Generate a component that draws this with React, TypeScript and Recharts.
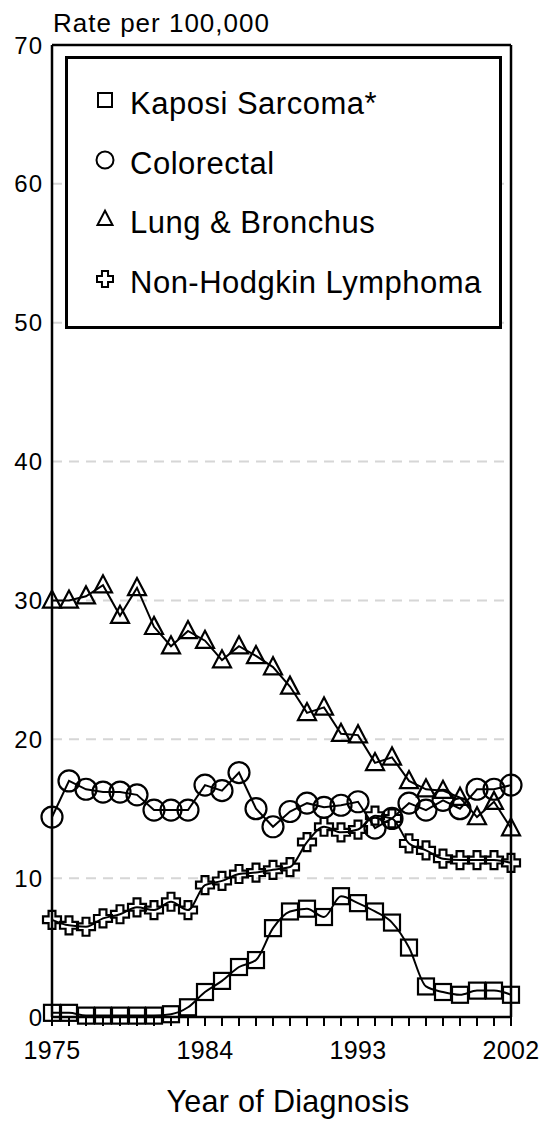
import React from 'react';
import {
  LineChart,
  Line,
  XAxis,
  YAxis,
  CartesianGrid,
  ReferenceLine,
  Legend,
} from 'recharts';

const FONT = '"Liberation Sans", Arial, Helvetica, sans-serif';

// Year of diagnosis, 1975 - 2002
const years = [
  1975, 1976, 1977, 1978, 1979, 1980, 1981, 1982, 1983, 1984, 1985, 1986, 1987, 1988,
  1989, 1990, 1991, 1992, 1993, 1994, 1995, 1996, 1997, 1998, 1999, 2000, 2001, 2002,
];
const labeledYears = [1975, 1984, 1993, 2002];
const rateTicks = [0, 10, 20, 30, 40, 50, 60, 70];

// Rate per 100,000
const kaposi = [
  0.3, 0.3, 0.1, 0.1, 0.1, 0.1, 0.1, 0.2, 0.7, 1.8, 2.6, 3.6, 4.1, 6.4,
  7.6, 7.8, 7.2, 8.7, 8.2, 7.6, 6.8, 5.0, 2.2, 1.8, 1.6, 1.9, 1.9, 1.6,
];
const colorectal = [
  14.4, 17.0, 16.4, 16.2, 16.2, 16.0, 14.9, 14.9, 14.9, 16.7, 16.3, 17.6, 15.0, 13.7,
  14.8, 15.4, 15.1, 15.25, 15.5, 13.6, 14.3, 15.4, 14.9, 15.6, 15.0, 16.4, 16.4, 16.7,
];
const lung = [
  30.0, 30.0, 30.3, 31.1, 28.9, 30.9, 28.1, 26.7, 27.8, 27.1, 25.7, 26.7, 26.0, 25.2,
  23.8, 21.9, 22.3, 20.4, 20.3, 18.3, 18.7, 17.0, 16.4, 16.3, 15.8, 14.4, 15.5, 13.6,
];
const nhl = [
  7.0, 6.6, 6.5, 7.1, 7.4, 7.9, 7.7, 8.3, 7.7, 9.5, 9.8, 10.3, 10.4, 10.6,
  10.8, 12.6, 13.7, 13.3, 13.5, 14.5, 14.3, 12.5, 12.0, 11.4, 11.3, 11.3, 11.3, 11.1,
];

const data = years.map((year, i) => ({
  year,
  kaposi: kaposi[i],
  colorectal: colorectal[i],
  lung: lung[i],
  nhl: nhl[i],
}));

type Shape = 'square' | 'circle' | 'triangle' | 'cross';

const series: { key: string; name: string; shape: Shape; curve: 'monotone' | 'linear' }[] = [
  { key: 'kaposi', name: 'Kaposi Sarcoma*', shape: 'square', curve: 'monotone' },
  { key: 'colorectal', name: 'Colorectal', shape: 'circle', curve: 'linear' },
  { key: 'lung', name: 'Lung & Bronchus', shape: 'triangle', curve: 'linear' },
  { key: 'nhl', name: 'Non-Hodgkin Lymphoma', shape: 'cross', curve: 'monotone' },
];

// hollow marker, s = half size
function Marker({ shape, cx, cy, s, sw }: { shape: Shape; cx: number; cy: number; s: number; sw: number }) {
  const common = { fill: 'none', stroke: '#000', strokeWidth: sw };
  if (shape === 'square') {
    return <rect x={cx - s} y={cy - s} width={s * 2} height={s * 2} {...common} />;
  }
  if (shape === 'circle') {
    return <circle cx={cx} cy={cy} r={s} {...common} />;
  }
  if (shape === 'triangle') {
    const pts = `${cx},${cy - s * 1.1} ${cx - s},${cy + s * 0.8} ${cx + s},${cy + s * 0.8}`;
    return <polygon points={pts} strokeLinejoin="miter" {...common} />;
  }
  const a = s * 0.38;
  const d = `M${cx - a},${cy - s} H${cx + a} V${cy - a} H${cx + s} V${cy + a} H${cx + a} V${cy + s} H${cx - a} V${cy + a} H${cx - s} V${cy - a} H${cx - a} Z`;
  return <path d={d} {...common} />;
}

const dotSize: Record<Shape, number> = { square: 8, circle: 10.5, triangle: 9, cross: 9 };

function makeDot(shape: Shape) {
  return (p: any) => {
    if (p.cx == null || p.cy == null) return <g key={`e-${shape}-${p.index}`} />;
    return (
      <g key={`d-${shape}-${p.index}`}>
        <Marker shape={shape} cx={p.cx} cy={p.cy} s={dotSize[shape]} sw={2.2} />
      </g>
    );
  };
}

const legendSize: Record<Shape, number> = { square: 7, circle: 8.5, triangle: 7.5, cross: 8 };
const legendBaselines = [58, 118, 177, 237];

function LegendBox() {
  return (
    <svg width={437} height={273} style={{ display: 'block' }}>
      <rect x={1.5} y={1.5} width={434} height={270} fill="#fff" stroke="#000" strokeWidth={3} />
      {series.map((s, i) => (
        <g key={s.key}>
          <Marker shape={s.shape} cx={40} cy={legendBaselines[i] - 14} s={legendSize[s.shape]} sw={2} />
          <text
            x={65}
            y={legendBaselines[i]}
            fontSize={31}
            letterSpacing={0.5}
            fontFamily={FONT}
            fill="#000"
          >
            {s.name}
          </text>
        </g>
      ))}
    </svg>
  );
}

export default function App() {
  return (
    <div style={{ position: 'absolute', left: 0, top: 0, background: '#fff', fontFamily: FONT }}>
      <LineChart width={542} height={1122} data={data} margin={{ top: 45, right: 31, bottom: 0, left: 0 }}>
        <CartesianGrid vertical={false} stroke="#d6d6d6" strokeDasharray="10 7" strokeWidth={2} />
        <XAxis
          dataKey="year"
          type="number"
          domain={[1975, 2002]}
          ticks={years}
          interval={0}
          height={105}
          tickSize={9}
          tickMargin={15}
          tickFormatter={(v: number) => (labeledYears.includes(v) ? String(v) : '')}
          tick={{ fontSize: 25, fill: '#000', fontFamily: FONT, letterSpacing: 0.3 }}
          axisLine={{ stroke: '#000', strokeWidth: 2.5 }}
          tickLine={{ stroke: '#000', strokeWidth: 2 }}
          label={{
            content: () => (
              <text
                x={288}
                y={1112}
                textAnchor="middle"
                fontSize={30.5}
                letterSpacing={0.3}
                fontFamily={FONT}
                fill="#000"
              >
                Year of Diagnosis
              </text>
            ),
          }}
        />
        <YAxis
          type="number"
          domain={[0, 70]}
          ticks={rateTicks}
          width={52}
          tickSize={0}
          tickMargin={9}
          tickLine={false}
          tick={{ fontSize: 24, fill: '#000', fontFamily: FONT, letterSpacing: 1 }}
          axisLine={{ stroke: '#000', strokeWidth: 2.5 }}
          label={{
            content: () => (
              <text x={53} y={32} fontSize={26} letterSpacing={1} fontFamily={FONT} fill="#000">
                Rate per 100,000
              </text>
            ),
          }}
        />
        <ReferenceLine y={70} stroke="#000" strokeWidth={2.5} />
        <ReferenceLine x={2002} stroke="#000" strokeWidth={2.5} />
        <Legend
          layout="vertical"
          align="center"
          verticalAlign="middle"
          wrapperStyle={{ position: 'absolute', left: 65, top: 56, width: 437, height: 273 }}
          content={() => <LegendBox />}
        />
        {series.map((s) => (
          <Line
            key={s.key}
            dataKey={s.key}
            name={s.name}
            type={s.curve}
            stroke="#000"
            strokeWidth={2}
            dot={makeDot(s.shape)}
            activeDot={false}
            isAnimationActive={false}
          />
        ))}
      </LineChart>
    </div>
  );
}
